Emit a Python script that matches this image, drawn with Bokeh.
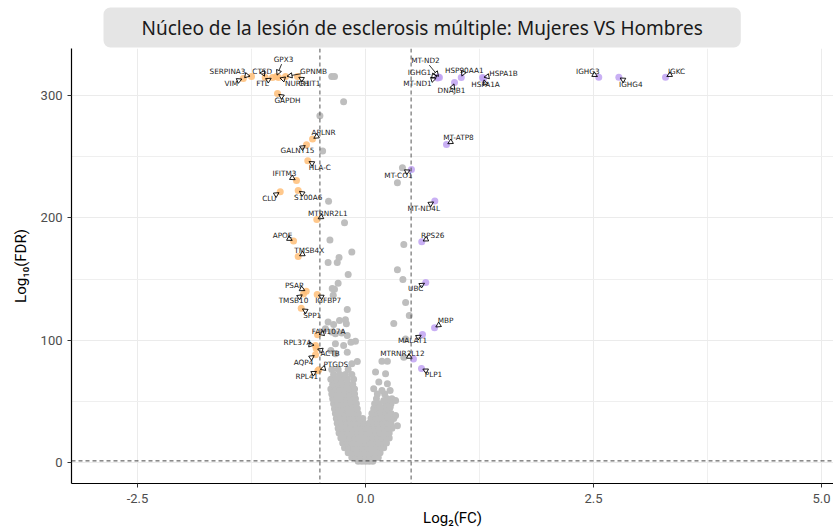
import math

from bokeh.plotting import figure
from bokeh.models import FixedTicker, Span, NumeralTickFormatter
from bokeh.embed import file_html
from bokeh.resources import INLINE
from bokeh.core.properties import value

# ---------------------------------------------------------------------------
# Labelled genes: log2 fold change and -log10(FDR)
# ---------------------------------------------------------------------------
genes = [
    "SERPINA3", "VIM", "CTSD", "FTL", "GPX3", "NUPR1", "GPNMB", "CHIT1", "GAPDH",
    "APLNR", "GALNT15", "HLA-C", "IFITM3", "S100A6", "CLU", "MTRNR2L1", "APOE",
    "TMSB4X", "PSAP", "TMSB10", "IGFBP7", "SPP1", "FAM107A", "RPL37A", "ACTB",
    "AQP4", "PTGDS", "RPL41",
    "MT-ND2", "IGHG1", "MT-ND1", "HSP90AA1", "DNAJB1", "HSPA1B", "HSPA1A",
    "IGHG3", "IGHG4", "IGKC", "MT-ATP8", "MT-CO1", "MT-ND4L", "RPS26", "UBC",
    "MBP", "MALAT1", "MTRNR2L12", "PLP1",
]
log2fc = [
    -1.25, -1.34, -1.10, -1.02, -0.976, -0.954, -0.877, -0.746, -0.965,
    -0.581, -0.647, -0.633, -0.757, -0.738, -0.935, -0.534, -0.789,
    -0.738, -0.650, -0.680, -0.530, -0.705, -0.526, -0.548, -0.541,
    -0.548, -0.512, -0.523,
    0.811, 0.800, 0.790, 1.05, 0.976, 1.283, 1.294,
    2.558, 2.778, 3.29, 0.888, 0.504, 0.760, 0.617, 0.661,
    0.757, 0.625, 0.526, 0.614,
]
log10fdr = [
    315.6, 314.0, 314.8, 314.8, 315.6, 314.8, 315.6, 315.6, 301.7,
    264.4, 259.8, 246.7, 230.6, 222.4, 221.3, 198.7, 181.0,
    168.4, 140.0, 137.8, 137.4, 126.2, 104.4, 95.7, 93.2,
    88.1, 75.8, 75.0,
    314.8, 315.2, 314.4, 314.8, 310.7, 314.8, 314.0,
    315.0, 315.0, 315.0, 260.0, 239.6, 213.7, 180.5, 147.2,
    110.1, 104.7, 84.6, 76.9,
]

# ---------------------------------------------------------------------------
# Non-significant genes (grey cloud)
# ---------------------------------------------------------------------------
grey_x = [
    -0.37, -0.34, -0.24, -0.50, -0.47, -0.405, -0.23, -0.39, -0.15, -0.29,
    -0.41, -0.31, -0.19, -0.30, -0.365, -0.34, -0.354, -0.20, -0.41, -0.35,
    -0.285, -0.22, -0.21, -0.44, -0.37, -0.33, -0.26, -0.20, -0.11, -0.16,
    -0.33, -0.24, -0.38, -0.33, -0.20, -0.09, -0.15,
    0.405, 0.35, 0.42, 0.35, 0.41, 0.44, 0.48, 0.31, 0.44, 0.42,
    0.18, 0.24, 0.11, 0.22, 0.146, 0.24, 0.09, 0.18, 0.27, 0.29,
    0.20, 0.33, 0.16, 0.27, 0.33, 0.24, 0.35,
]
grey_y = [
    315.6, 315.6, 295.0, 283.5, 254.6, 213.6, 196.0, 182.0, 172.0, 167.6,
    163.5, 163.5, 153.7, 146.6, 142.3, 141.7, 136.8, 125.0, 114.8, 112.8,
    116.0, 116.6, 113.4, 109.3, 106.6, 105.2, 105.8, 103.8, 99.2, 98.4,
    97.0, 95.7, 91.6, 88.9, 90.2, 82.6, 80.7,
    241.0, 228.7, 178.2, 157.6, 149.6, 130.8, 120.2, 113.7, 101.0, 86.1,
    82.8, 82.8, 73.9, 72.5, 65.7, 64.3, 60.2, 58.9, 58.9, 52.0,
    50.7, 50.7, 45.2, 45.2, 38.4, 37.0, 30.0,
]

# dense core of the volcano, row by row (-log10 FDR, list of log2 FC)
core_rows = [
    (1, [-0.08, -0.04, 0.0, 0.04, 0.08]),
    (4, [-0.15, -0.10, -0.05, 0.0, 0.05, 0.10, 0.14]),
    (8, [-0.19, -0.14, -0.09, -0.04, 0.01, 0.06, 0.11, 0.16]),
    (12, [-0.23, -0.18, -0.13, -0.08, -0.03, 0.02, 0.07, 0.12, 0.17, 0.20]),
    (16, [-0.25, -0.20, -0.15, -0.10, -0.05, 0.0, 0.05, 0.10, 0.15, 0.20, 0.23]),
    (20, [-0.27, -0.22, -0.17, -0.12, -0.07, -0.02, 0.03, 0.08, 0.13, 0.18, 0.23, 0.26]),
    (24, [-0.29, -0.24, -0.19, -0.14, -0.09, -0.04, 0.01, 0.06, 0.11, 0.16, 0.21, 0.26]),
    (28, [-0.30, -0.25, -0.20, -0.15, -0.10, -0.05, 0.0, 0.05, 0.10, 0.15, 0.20, 0.25, 0.29]),
    (32, [-0.31, -0.26, -0.21, -0.16, -0.11, -0.06, -0.02, 0.04, 0.09, 0.14, 0.19, 0.24, 0.28]),
    (36, [-0.32, -0.27, -0.22, -0.17, -0.12, -0.07, -0.03, 0.06, 0.11, 0.16, 0.21, 0.26, 0.31]),
    (40, [-0.33, -0.28, -0.23, -0.18, -0.13, -0.08, 0.07, 0.12, 0.17, 0.22, 0.28]),
    (44, [-0.34, -0.29, -0.24, -0.19, -0.14, -0.09, 0.09, 0.14, 0.19, 0.24]),
    (48, [-0.35, -0.30, -0.25, -0.20, -0.15, -0.10, 0.10, 0.15, 0.22, 0.28]),
    (52, [-0.36, -0.31, -0.26, -0.21, -0.16, -0.11, 0.12, 0.24]),
    (56, [-0.37, -0.32, -0.27, -0.22, -0.17, -0.12, 0.13, 0.21]),
    (60, [-0.38, -0.33, -0.28, -0.23, -0.18, -0.12]),
    (64, [-0.36, -0.30, -0.25, -0.19, -0.14]),
    (68, [-0.38, -0.32, -0.26, -0.20, -0.13]),
    (72, [-0.35, -0.28, -0.22, -0.15]),
    (76, [-0.37, -0.30, -0.19]),
]

fc_cutoff = 0.5
fdr_line = 1.3

# label placement: offset of each label centre from its point, in pixels (y up)
label_offset = {
    "SERPINA3": (-24, 5), "VIM": (-12, -5), "CTSD": (-3, 6), "FTL": (-10, -6),
    "GPX3": (7, 17), "NUPR1": (19, -6), "GPNMB": (28, 5), "CHIT1": (12, -7),
    "GAPDH": (10, -7), "APLNR": (11, 7), "GALNT15": (-9, -6), "HLA-C": (12, -7),
    "IFITM3": (-12, 7), "S100A6": (10, -7), "CLU": (-11, -7), "MTRNR2L1": (11, 6),
    "APOE": (-11, 6), "TMSB4X": (11, 6), "PSAP": (-12, 6), "TMSB10": (-10, -7),
    "IGFBP7": (11, -6), "SPP1": (11, -7), "FAM107A": (11, 3), "RPL37A": (-18, 3),
    "ACTB": (14, -5), "AQP4": (-12, -8), "PTGDS": (17, 5), "RPL41": (-11, -6),
    "MT-ND2": (-14, 17), "IGHG1": (-19, 4), "MT-ND1": (-20, -6), "HSP90AA1": (3, 7),
    "DNAJB1": (-3, -8), "HSPA1B": (21, 4), "HSPA1A": (2, -6), "IGHG3": (-11, 6),
    "IGHG4": (12, -7), "IGKC": (11, 6), "MT-ATP8": (12, 7), "MT-CO1": (-13, -6),
    "MT-ND4L": (-11, -7), "RPS26": (11, 6), "UBC": (-10, -6), "MBP": (11, 7),
    "MALAT1": (-10, -6), "MTRNR2L12": (-11, 6), "PLP1": (12, -6),
}

# ---------------------------------------------------------------------------
# Figure
# ---------------------------------------------------------------------------
X0, X1 = -3.224, 5.132
Y0, Y1 = -17.2, 338.5
FW, FH = 762, 435
SX = FW / (X1 - X0)
SY = FH / (Y1 - Y0)

TITLE = "Núcleo de la lesión de esclerosis múltiple: Mujeres VS Hombres"

p = figure(
    frame_width=FW, frame_height=FH,
    x_range=(X0, X1), y_range=(Y0, Y1),
    output_backend="svg", toolbar_location=None,
    min_border_left=71, min_border_right=0,
    min_border_top=48, min_border_bottom=48,
    title=TITLE,
)
p.outline_line_color = None
p.background_fill_color = "white"

p.title.text_font = "Noto Sans"
p.title.text_font_size = "19px"
p.title.text_font_style = "normal"
p.title.text_color = "#1a1a1a"
p.title.align = "left"
p.title.offset = 32
p.title.background_fill_color = "#E5E5E5"
p.title.border_radius = 7
p.title.padding = dict(left=38, right=38, top=7, bottom=7)
p.title.standoff = 2

# axes
p.xaxis.ticker = FixedTicker(ticks=[-2.5, 0.0, 2.5, 5.0], minor_ticks=[-1.25, 1.25, 3.75])
p.yaxis.ticker = FixedTicker(ticks=[0, 100, 200, 300], minor_ticks=[50, 150, 250])
p.xaxis.formatter = NumeralTickFormatter(format="0.0")
p.yaxis.formatter = NumeralTickFormatter(format="0")
p.xaxis.axis_label = "Log\u2082(FC)"
p.yaxis.axis_label = "Log\u2081\u2080(FDR)"
for ax in (p.xaxis, p.yaxis):
    ax.axis_line_color = "black"
    ax.axis_line_width = 1.2
    ax.major_tick_line_color = "#333333"
    ax.major_tick_out = 4
    ax.major_tick_in = 0
    ax.minor_tick_line_color = None
    ax.major_label_text_font = "Roboto"
    ax.major_label_text_font_size = "13px"
    ax.major_label_text_color = "#4D4D4D"
    ax.axis_label_text_font = "Roboto"
    ax.axis_label_text_font_size = "15px"
    ax.axis_label_text_font_style = "normal"
    ax.axis_label_text_color = "black"
p.xaxis.major_label_standoff = 6
p.xaxis.axis_label_standoff = 3
p.yaxis.major_label_standoff = 5
p.yaxis.axis_label_standoff = 8

for g in (p.xgrid, p.ygrid):
    g.grid_line_color = "#EBEBEB"
    g.grid_line_width = 1
    g.minor_grid_line_color = "#EFEFEF"
    g.minor_grid_line_width = 1

# threshold lines
for xv in (-fc_cutoff, fc_cutoff):
    p.add_layout(Span(location=xv, dimension="height", line_color="#555555",
                      line_dash="4 3", line_width=1))
p.add_layout(Span(location=fdr_line, dimension="width", line_color="#444444",
                  line_dash="4 3", line_width=1))

# grey background genes
core_x = [x for _, xs in core_rows for x in xs]
core_y = [yv for yv, xs in core_rows for _ in xs]
p.scatter(core_x + grey_x, core_y + grey_y, size=7, fill_color="#BEBEBE",
          line_color=None)

# highlighted genes
down_col, up_col = "#FFBE78", "#BFA2F2"
colors = [down_col if fc < 0 else up_col for fc in log2fc]
p.scatter(log2fc, log10fdr, size=7, fill_color=colors, fill_alpha=0.85,
          line_color=None)

# labels with small open arrowheads pointing at each gene
FS = 7.3
TIP, BASE, HALF = 1.5, 6.5, 2.6
tri_xs, tri_ys = [], []
seg_x0, seg_y0, seg_x1, seg_y1 = [], [], [], []
lab_x, lab_y, lab_t, lab_dx, lab_dy = [], [], [], [], []
for g, x, y in zip(genes, log2fc, log10fdr):
    dx, dy = label_offset[g]
    d = math.hypot(dx, dy)
    ux, uy = dx / d, dy / d
    nx, ny = -uy, ux
    pts = [
        (ux * TIP, uy * TIP),
        (ux * BASE + nx * HALF, uy * BASE + ny * HALF),
        (ux * BASE - nx * HALF, uy * BASE - ny * HALF),
    ]
    tri_xs.append([x + px / SX for px, _ in pts])
    tri_ys.append([y + py / SY for _, py in pts])

    hw = 0.31 * FS * len(g) + 1
    hh = 0.5 * FS + 1
    t = min(hw / abs(dx) if dx else 1e9, hh / abs(dy) if dy else 1e9)
    if d * (1 - t) > BASE + 3:
        bx, by = dx * (1 - t), dy * (1 - t)
        seg_x0.append(x + bx / SX)
        seg_y0.append(y + by / SY)
        seg_x1.append(x + ux * BASE / SX)
        seg_y1.append(y + uy * BASE / SY)
    lab_x.append(x)
    lab_y.append(y)
    lab_t.append(g)
    lab_dx.append(dx)
    lab_dy.append(-dy)

p.segment(seg_x0, seg_y0, seg_x1, seg_y1, line_color="black", line_width=0.8)
p.patches(tri_xs, tri_ys, fill_color=None, line_color="black", line_width=0.9)
p.text(lab_x, lab_y, text=lab_t, x_offset=lab_dx, y_offset=lab_dy,
       text_font=value("DejaVu Sans"), text_font_size="7.3px",
       text_color="#1a1a1a", text_align="center", text_baseline="middle")

open("out.html", "w").write(file_html(p, INLINE))
